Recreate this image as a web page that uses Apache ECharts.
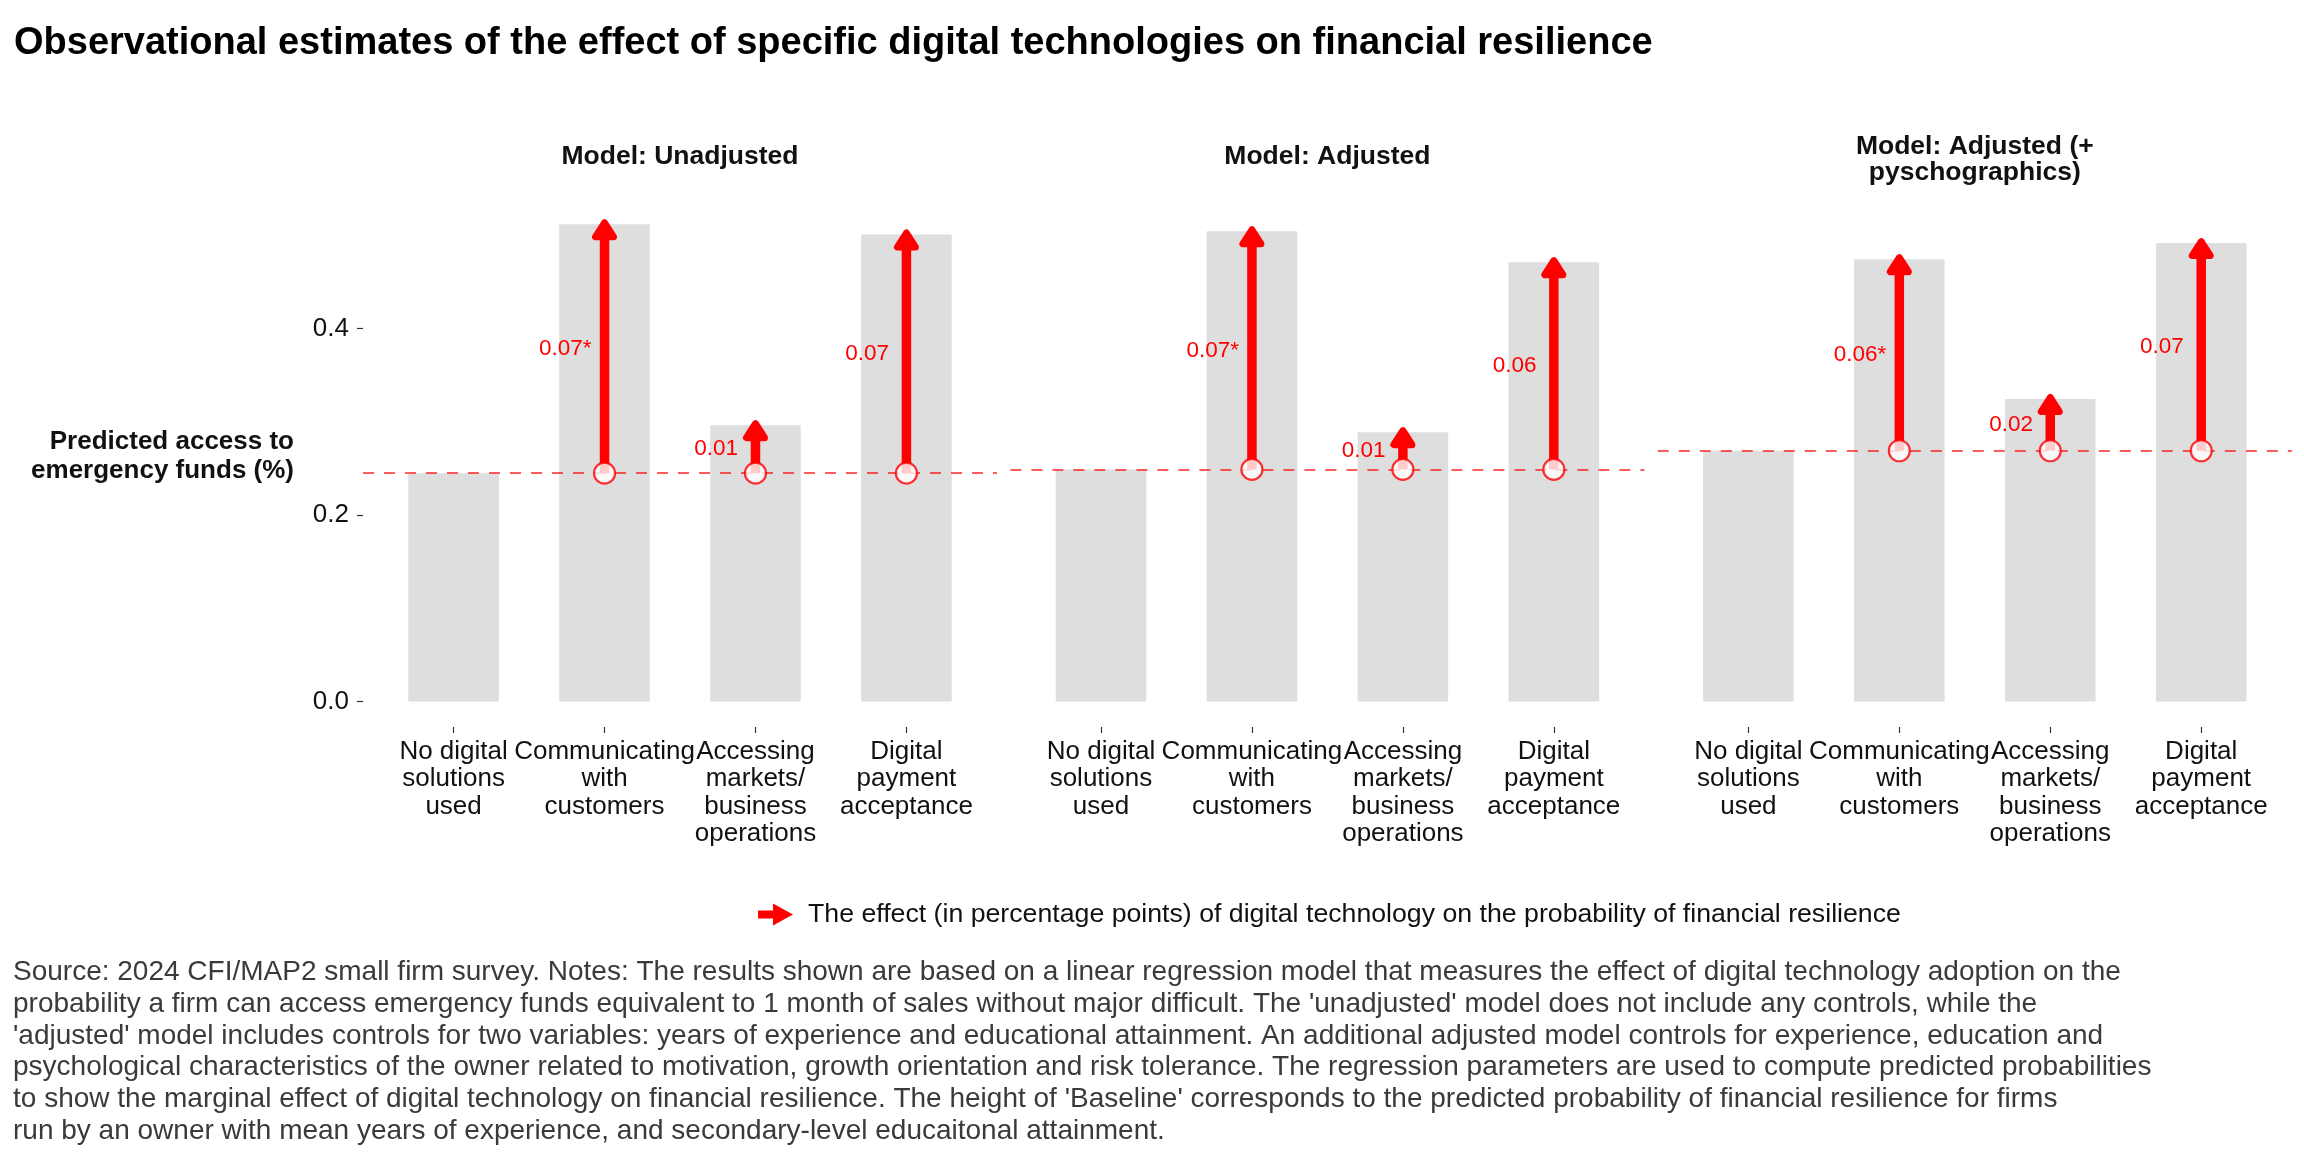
<!DOCTYPE html>
<html><head><meta charset="utf-8">
<script src="https://cdn.jsdelivr.net/npm/echarts@6/dist/echarts.min.js"></script>
<style>html,body{margin:0;padding:0;background:#fff}#c{width:2304px;height:1152px}</style>
</head><body><div id="c"></div>
<script>
// ---------- data ----------
const categories = [
  'No digital\nsolutions\nused',
  'Communicating\nwith\ncustomers',
  'Accessing\nmarkets/\nbusiness\noperations',
  'Digital\npayment\nacceptance'
];
const panelTitles = ['Model: Unadjusted', 'Model: Adjusted', 'Model: Adjusted (+\npyschographics)'];
// predicted access to emergency funds (first value = baseline "No digital solutions used")
const predictedUnadjusted = [0.245, 0.512, 0.2965, 0.501];
const predictedAdjusted   = [0.249, 0.5045, 0.289, 0.4713];
const predictedPsycho     = [0.269, 0.4745, 0.3245, 0.4918];
// effect labels (percentage points)
const effectUnadjusted = ['', '0.07*', '0.01', '0.07'];
const effectAdjusted   = ['', '0.07*', '0.01', '0.06'];
const effectPsycho     = ['', '0.06*', '0.02', '0.07'];
const yTicks = [0, 0.2, 0.4];
const xTicks = [0, 1, 2, 3];
const legendLabel = 'The effect (in percentage points) of digital technology on the probability of financial resilience';
const yAxisTitle = 'Predicted access to\nemergency funds (%)';
const titleText = 'Observational estimates of the effect of specific digital technologies on financial resilience';
const captionText = [
  "Source: 2024 CFI/MAP2 small firm survey. Notes: The results shown are based on a linear regression model that measures the effect of digital technology adoption on the",
  "probability a firm can access emergency funds equivalent to 1 month of sales without major difficult. The 'unadjusted' model does not include any controls, while the",
  "'adjusted' model includes controls for two variables: years of experience and educational attainment. An additional adjusted model controls for experience, education and",
  "psychological characteristics of the owner related to motivation, growth orientation and risk tolerance. The regression parameters are used to compute predicted probabilities",
  "to show the marginal effect of digital technology on financial resilience. The height of 'Baseline' corresponds to the predicted probability of financial resilience for firms",
  "run by an owner with mean years of experience, and secondary-level educaitonal attainment."
].join('\n');

// ---------- styling / layout ----------
const FONT = "'Liberation Sans', Arial, Helvetica, sans-serif";
const RED = '#ff0000';
const BAR = '#dedede';
const panelLeft0 = 363, panelStride = 647.4, panelWidth = 634;
const gridTop = 187, gridBottom = 1152 - 726;
const yMin = -0.0263, yMax = 0.552;

const panels = [
  {pred: predictedUnadjusted, eff: effectUnadjusted},
  {pred: predictedAdjusted, eff: effectAdjusted},
  {pred: predictedPsycho, eff: effectPsycho}
];

function arrowRenderer(labels) {
  return function (params, api) {
    const xi = api.value(0), b = api.value(1), t = api.value(2);
    const p0 = api.coord([xi, b]);
    const p1 = api.coord([xi, t]);
    const unit = api.size([1, 0])[0];
    const tipY = p1[1] - 1.5, baseY = p1[1] + 12.5, halfW = 9;
    return {
      type: 'group',
      children: [
        {type: 'line', shape: {x1: p0[0], y1: p0[1], x2: p1[0], y2: baseY - 1},
         style: {stroke: RED, lineWidth: 9.5}},
        {type: 'polygon', shape: {points: [[p1[0], tipY], [p1[0] - halfW, baseY], [p1[0] + halfW, baseY]]},
         style: {fill: RED, stroke: RED, lineWidth: 7, lineJoin: 'round'}},
        {type: 'text', style: {text: labels[xi], x: p0[0] - 0.26 * unit, y: (p0[1] + p1[1]) / 2,
         fill: RED, fontSize: 22.5, fontFamily: FONT, align: 'center', verticalAlign: 'middle'}}
      ]
    };
  };
}

const grids = [], xAxes = [], yAxes = [], series = [], graphics = [];
panels.forEach((p, i) => {
  const left = panelLeft0 + i * panelStride;
  grids.push({left: left, width: panelWidth, top: gridTop, bottom: gridBottom, containLabel: false});
  xAxes.push({
    type: 'value', gridIndex: i, min: -0.6, max: 3.6, offset: 1, position: 'bottom',
    axisLine: {show: false, onZero: false}, splitLine: {show: false},
    axisTick: {show: true, length: 6, lineStyle: {color: '#333', width: 1.2}, customValues: xTicks},
    axisLabel: {customValues: xTicks, formatter: v => categories[Math.round(v)] || '', interval: 0,
      hideOverlap: false, fontSize: 26, lineHeight: 27.5, color: '#111', fontFamily: FONT, margin: 11}
  });
  yAxes.push({
    type: 'value', gridIndex: i, min: yMin, max: yMax, show: i === 0, position: 'left',
    name: i === 0 ? yAxisTitle : '', nameLocation: 'middle', nameRotate: 0, nameGap: 69,
    nameTextStyle: {fontSize: 26, fontWeight: 'bold', color: '#111', fontFamily: FONT, lineHeight: 29, align: 'right', verticalAlign: 'middle'},
    axisLine: {show: false, onZero: false}, splitLine: {show: false},
    axisTick: {show: true, length: 6, lineStyle: {color: '#333', width: 1.2}, customValues: yTicks},
    axisLabel: {customValues: yTicks, formatter: v => v.toFixed(1), fontSize: 26, color: '#111', fontFamily: FONT, margin: 14}
  });
  const base = p.pred[0];
  series.push({
    type: 'bar', xAxisIndex: i, yAxisIndex: i, barWidth: '60%', silent: true,
    itemStyle: {color: BAR}, z: 2,
    data: p.pred.map((v, k) => [k, v]),
    markLine: {silent: true, symbol: ['none', 'none'], label: {show: false}, animation: false, precision: 5,
      lineStyle: {type: [11, 10], color: 'rgba(255,0,0,0.85)', width: 1.7},
      emphasis: {disabled: true},
      data: [{yAxis: base}]}
  });
  series.push({
    type: 'custom', name: legendLabel, xAxisIndex: i, yAxisIndex: i, silent: true, z: 4,
    itemStyle: {color: RED},
    renderItem: arrowRenderer(p.eff),
    encode: {x: 0, y: [1, 2]},
    data: p.pred.slice(1).map((v, k) => [k + 1, base, v])
  });
  series.push({
    type: 'scatter', xAxisIndex: i, yAxisIndex: i, silent: true, z: 6,
    symbol: 'circle', symbolSize: 21,
    itemStyle: {color: '#fff', borderColor: RED, borderWidth: 2.2},
    data: p.pred.slice(1).map((v, k) => [k + 1, base])
  });
  const twoLine = panelTitles[i].indexOf('\n') >= 0;
  graphics.push({
    type: 'text', x: left + panelWidth / 2, y: twoLine ? 160 : 157, silent: true,
    style: {text: panelTitles[i], font: 'bold 26.5px ' + FONT, fill: '#111', align: 'center', verticalAlign: 'middle', lineHeight: 26}
  });
});

const chart = echarts.init(document.getElementById('c'), null, {renderer: 'canvas'});
chart.setOption({
  animation: false,
  backgroundColor: '#fff',
  textStyle: {fontFamily: FONT},
  title: [
    {text: titleText, left: 14, top: 21, padding: 0,
     textStyle: {fontSize: 38, fontWeight: 'bold', color: '#000', fontFamily: FONT, lineHeight: 46}},
    {text: captionText, left: 13, top: 956.7, padding: 0,
     textStyle: {fontSize: 28, fontWeight: 'normal', color: '#3a3a3a', fontFamily: FONT, lineHeight: 31.7}}
  ],
  legend: {
    left: 758, top: 901, padding: 0, itemWidth: 35, itemHeight: 22, selectedMode: false,
    data: [{name: legendLabel, icon: 'path://M0,7 L15,7 L15,0 L35,11 L15,22 L15,15 L0,15 Z', itemStyle: {color: RED}}],
    textStyle: {fontSize: 26.7, color: '#111', fontFamily: FONT, padding: [0, 0, 0, 10]}
  },
  grid: grids, xAxis: xAxes, yAxis: yAxes, series: series,
  graphic: graphics
});
</script></body></html>
